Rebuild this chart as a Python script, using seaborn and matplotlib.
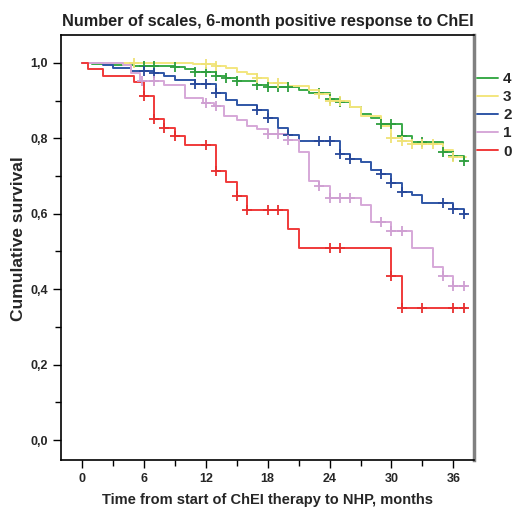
import matplotlib
matplotlib.use("Agg")
import matplotlib.pyplot as plt
from matplotlib.ticker import MultipleLocator, FuncFormatter
import pandas as pd
import seaborn as sns
import numpy as np

# step times (months) and survival after each step, per group
groups = ["4", "3", "2", "1", "0"]

t4 = [0, 1, 3, 5, 9, 10, 11, 13, 14, 15, 17, 18, 21, 22, 24, 25, 26, 27, 28, 29, 31, 32, 35, 36, 37, 37.2]
s4 = [1.0, 0.997, 0.995, 0.993, 0.988, 0.983, 0.977, 0.964, 0.959, 0.951, 0.942, 0.935, 0.927, 0.920,
      0.904, 0.897, 0.884, 0.864, 0.853, 0.838, 0.806, 0.790, 0.765, 0.754, 0.740, 0.740]
c4 = [6, 7, 9, 11, 12, 13, 14, 15, 17, 18, 19, 20, 23, 24, 25, 29, 30, 31, 33, 35, 36, 37]

t3 = [0, 10.8, 13, 14, 15, 16, 17, 18, 20, 22, 23, 24, 26, 27, 29, 30, 31, 32, 35, 36, 37.2]
s3 = [1.0, 0.997, 0.991, 0.986, 0.977, 0.970, 0.959, 0.947, 0.938, 0.928, 0.918, 0.898, 0.884, 0.859,
      0.833, 0.800, 0.792, 0.785, 0.768, 0.750, 0.750]
c3 = [5, 12, 13, 17, 19, 23, 24, 25, 30, 31, 32, 33, 34, 36]

t2 = [0, 2, 3, 4.8, 7, 8, 9, 11, 13, 14, 15, 17, 18, 19, 20, 21, 25, 26, 27, 28, 29, 30, 31, 32, 33, 36, 37, 37.2]
s2 = [1.0, 0.995, 0.986, 0.979, 0.973, 0.966, 0.955, 0.944, 0.921, 0.901, 0.889, 0.875, 0.855, 0.828,
      0.809, 0.792, 0.759, 0.745, 0.738, 0.716, 0.705, 0.681, 0.657, 0.650, 0.628, 0.612, 0.600, 0.600]
c2 = [6, 7, 11, 12, 13, 17, 18, 20, 23, 24, 25, 26, 29, 30, 31, 35, 36, 37]

t1 = [0, 4, 4.8, 5.6, 8, 10, 11.7, 12.8, 13.8, 15, 16, 17, 18, 20, 21, 22, 23, 24, 27, 28, 30, 32, 34, 35, 36, 37.2]
s1 = [1.0, 0.994, 0.973, 0.952, 0.942, 0.906, 0.893, 0.885, 0.860, 0.849, 0.834, 0.825, 0.811, 0.796,
      0.765, 0.688, 0.674, 0.641, 0.623, 0.579, 0.555, 0.508, 0.460, 0.435, 0.408, 0.408]
c1 = [5.8, 7, 12, 13, 18, 19, 20, 23, 24, 25, 26, 29, 30, 31, 35, 36, 37]

t0 = [0, 0.6, 2, 5, 6, 7, 8, 9, 10, 13, 14, 15, 16, 20, 21, 30, 31, 37.2]
s0 = [1.0, 0.984, 0.966, 0.949, 0.912, 0.851, 0.827, 0.805, 0.781, 0.714, 0.683, 0.648, 0.610, 0.560,
      0.508, 0.436, 0.349, 0.349]
c0 = [6, 7, 8, 9, 12, 13, 15, 16, 18, 19, 24, 25, 30, 31, 33, 36, 37]

colors = {"4": "#3aaa4a", "3": "#f3e67e", "2": "#2f56a6", "1": "#d6a8d8", "0": "#f03a3a"}
mark_colors = {"4": "#2e9e3e", "3": "#efe276", "2": "#27489a", "1": "#cf9fd2", "0": "#e82e2e"}

curves = {"4": (t4, s4, c4), "3": (t3, s3, c3), "2": (t2, s2, c2), "1": (t1, s1, c1), "0": (t0, s0, c0)}

rows = []
for g in groups:
    t, s, _ = curves[g]
    for a, b in zip(t, s):
        rows.append((g, a, b))
df = pd.DataFrame(rows, columns=["group", "month", "surv"])

sns.set_style("white")
plt.rcParams["font.family"] = ["Liberation Sans", "DejaVu Sans"]
plt.rcParams["font.weight"] = "bold"

fig = plt.figure(figsize=(5.15, 5.08), dpi=100)
ax = fig.add_axes([0.1184, 0.0945, 0.802, 0.8366])

sns.lineplot(data=df, x="month", y="surv", hue="group", hue_order=groups, palette=colors,
             drawstyle="steps-post", estimator=None, linewidth=1.4, ax=ax)

# censor marks on each curve
for g in groups:
    t, s, c = curves[g]
    idx = np.searchsorted(t, c, side="right") - 1
    ax.plot(c, np.array(s)[idx], linestyle="none", marker="+", markersize=6.5, mew=1.3,
            color=mark_colors[g], zorder=3)

ax.set_xlim(-2.03, 38)
ax.set_ylim(-0.053, 1.074)
ax.xaxis.set_major_locator(MultipleLocator(6))
ax.xaxis.set_minor_locator(MultipleLocator(3))
ax.yaxis.set_major_locator(MultipleLocator(0.2))
ax.yaxis.set_minor_locator(MultipleLocator(0.1))
ax.yaxis.set_major_formatter(FuncFormatter(lambda v, p: f"{v:.1f}".replace(".", ",")))
ax.tick_params(axis="both", which="major", direction="out", length=6, width=1, labelsize=9, color="black",
               bottom=True, left=True)
ax.tick_params(axis="both", which="minor", direction="out", length=4, width=1, color="black",
               bottom=True, left=True)
for lab in ax.get_xticklabels() + ax.get_yticklabels():
    lab.set_fontweight("bold")

for side in ["top", "left", "bottom"]:
    ax.spines[side].set_color("black")
    ax.spines[side].set_linewidth(1.2)
ax.spines["right"].set_color("#808080")
ax.spines["right"].set_linewidth(2.5)

fig.text(0.52, 1 - 21.5 / 508, "Number of scales, 6-month positive response to ChEI", fontsize=11.7,
         fontweight="bold", color="#222222", ha="center", va="center")
ax.set_xlabel("Time from start of ChEI therapy to NHP, months", fontsize=10.5, fontweight="bold")
ax.xaxis.set_label_coords(0.5, -0.078)
ax.set_ylabel("Cumulative survival", fontsize=12.5, fontweight="bold")
ax.yaxis.set_label_coords(-0.085, 0.52)

handles, labels = ax.get_legend_handles_labels()
ax.legend(handles[:5], labels[:5], loc="upper left", bbox_to_anchor=(1.0, 0.92), frameon=False,
          prop={"size": 11, "weight": "bold"}, handlelength=1.4, handletextpad=0.3, labelspacing=0.27,
          borderaxespad=0.2, borderpad=0)

fig.savefig("out.png", dpi=100)
